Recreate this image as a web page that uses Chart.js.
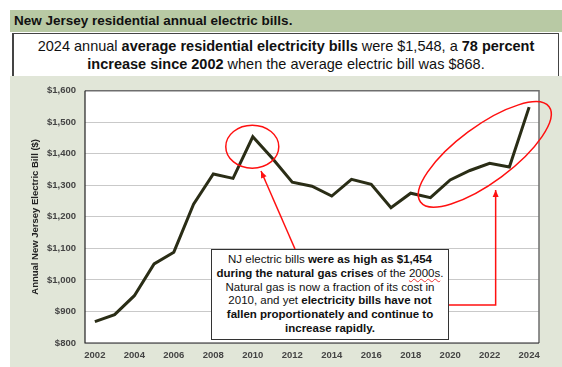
<!DOCTYPE html>
<html>
<head>
<meta charset="utf-8">
<script src="https://cdn.jsdelivr.net/npm/chart.js@4"></script>
<style>
  body { margin: 0; width: 562px; height: 367px; background: #fff; position: relative; overflow: hidden;
         font-family: "Liberation Sans", Arial, sans-serif; }
  #header { position: absolute; left: 10px; top: 10px; width: 548px; height: 22px; padding-left: 4px;
            background: #b8c9a4; font-weight: bold; font-size: 13.5px; line-height: 22px; color: #111; }
  #subtitle { position: absolute; left: 12px; top: 33px; width: 544px; height: 40px; background: #fff;
              border: 1px solid #444; border-left-width: 2px; border-top-width: 1.5px;
              text-align: center; font-size: 14.5px; line-height: 18px; padding-top: 3px; color: #111; }
  #panel { position: absolute; left: 10px; top: 76px; width: 552px; height: 291px; background: #e1e6d8; }
  #chart { position: absolute; left: 0; top: 0; }
  #note { position: absolute; left: 211px; top: 249px; width: 236px; height: 86px; background: #fff;
          border: 1px solid #333; text-align: center; font-size: 11.5px; line-height: 13.8px; color: #111;
          padding-top: 3px; box-sizing: content-box; }
  .sp { text-decoration: underline wavy #e33; text-decoration-thickness: 1px; }
</style>
</head>
<body>
<div id="header">New Jersey residential annual electric bills.</div>
<div id="subtitle">2024 annual <b>average residential electricity bills</b> were $1,548, a <b>78 percent</b><br><b>increase since 2002</b> when the average electric bill was $868.</div>
<div id="panel"><canvas id="chart" width="552" height="291"></canvas></div>
<div id="note">NJ electric bills <b>were as high as $1,454</b><br><b>during the natural gas crises</b> of the <span class="sp">2000s</span>.<br>Natural gas is now a fraction of its cost in<br>2010, and yet <b>electricity bills have not</b><br><b>fallen proportionately and continue to</b><br><b>increase rapidly.</b></div>

<script>
// Annual residential electric bill, New Jersey
const years = [
  "2002", "2003", "2004", "2005", "2006", "2007", "2008", "2009", "2010", "2011", "2012", "2013",
  "2014", "2015", "2016", "2017", "2018", "2019", "2020", "2021", "2022", "2023", "2024"
];
const bills = [
  868, 890, 950, 1051, 1088, 1240, 1336, 1322, 1454, 1385, 1310, 1297,
  1266, 1319, 1303, 1229, 1275, 1261, 1317, 1347, 1370, 1358, 1548
];
const yMin = 800;
const yMax = 1600;
const yStep = 100;

const tickFont = { family: "'Liberation Sans', Arial, sans-serif", size: 9.5, weight: "bold" };

// white plot area, frame and red callouts
const decorations = {
  id: "decorations",
  beforeDraw(chart) {
    const { ctx, chartArea: a } = chart;
    ctx.save();
    ctx.fillStyle = "#ffffff";
    ctx.fillRect(a.left, a.top, a.right - a.left, a.bottom - a.top);
    ctx.restore();
  },
  afterDraw(chart) {
    const { ctx, chartArea: a, scales } = chart;
    const x = scales.x, y = scales.y;
    ctx.save();
    // frame
    ctx.strokeStyle = "#6e6e6e";
    ctx.lineWidth = 1.5;
    ctx.beginPath();
    ctx.moveTo(a.left, a.top);
    ctx.lineTo(a.right, a.top);
    ctx.lineTo(a.right, a.bottom);
    ctx.stroke();
    ctx.strokeStyle = "#222";
    ctx.lineWidth = 1.2;
    ctx.beginPath();
    ctx.moveTo(a.left, a.top);
    ctx.lineTo(a.left, a.bottom);
    ctx.lineTo(a.right, a.bottom);
    ctx.stroke();

    ctx.strokeStyle = "#ff1010";
    ctx.fillStyle = "#ff1010";
    ctx.lineWidth = 1.5;

    // circle round the 2010 peak
    const px = x.getPixelForValue(years.indexOf("2010"));
    const py = y.getPixelForValue(1454);
    ctx.beginPath();
    ctx.ellipse(px - 0.5, py + 10, 26.5, 21.5, 0, 0, Math.PI * 2);
    ctx.stroke();

    // tilted ellipse round the recent years
    const ex = (x.getPixelForValue(years.indexOf("2021")) + x.getPixelForValue(years.indexOf("2022"))) / 2 + 5;
    const ey = y.getPixelForValue(1398);
    ctx.beginPath();
    ctx.ellipse(ex, ey, 80, 28, -36.5 * Math.PI / 180, 0, Math.PI * 2);
    ctx.stroke();

    // arrows from the note box (note box is html, panel offset 10,76)
    const arrow = (pts) => {
      ctx.beginPath();
      ctx.moveTo(pts[0][0], pts[0][1]);
      for (let i = 1; i < pts.length; i++) ctx.lineTo(pts[i][0], pts[i][1]);
      ctx.stroke();
      const [x1, y1] = pts[pts.length - 2];
      const [x2, y2] = pts[pts.length - 1];
      const ang = Math.atan2(y2 - y1, x2 - x1);
      ctx.beginPath();
      ctx.moveTo(x2, y2);
      ctx.lineTo(x2 - 7 * Math.cos(ang) + 3 * Math.sin(ang), y2 - 7 * Math.sin(ang) - 3 * Math.cos(ang));
      ctx.lineTo(x2 - 7 * Math.cos(ang) - 3 * Math.sin(ang), y2 - 7 * Math.sin(ang) + 3 * Math.cos(ang));
      ctx.closePath();
      ctx.fill();
    };
    arrow([[285, 173], [251, 95]]);
    const ax = x.getPixelForValue(years.indexOf("2022")) + 6;
    arrow([[438, 229], [ax, 229], [ax, 114]]);
    ctx.restore();
  }
};

new Chart(document.getElementById("chart"), {
  type: "line",
  data: {
    labels: years,
    datasets: [{
      data: bills,
      borderColor: "#2a2d16",
      borderWidth: 3,
      pointRadius: 0,
      tension: 0,
      borderJoinStyle: "miter"
    }]
  },
  options: {
    responsive: false,
    animation: false,
    devicePixelRatio: 1,
    layout: { padding: { left: 0, top: 13, right: 23, bottom: 0 } },
    plugins: { legend: { display: false }, tooltip: { enabled: false } },
    scales: {
      x: {
        offset: true,
        grid: { display: false, drawTicks: false },
        border: { display: false },
        afterFit: (s) => { s.height = 24; },
        ticks: {
          autoSkip: false,
          maxRotation: 0,
          padding: 7,
          color: "#444",
          font: tickFont,
          callback: function (v, i) { return i % 2 === 0 ? this.getLabelForValue(v) : ""; }
        }
      },
      y: {
        min: yMin,
        max: yMax,
        afterFit: (s) => { s.width = 75; },
        grid: { color: "#c9c9c9", lineWidth: 1, drawTicks: false },
        border: { display: false },
        ticks: {
          stepSize: yStep,
          padding: 9,
          color: "#444",
          font: tickFont,
          callback: (v) => "$" + v.toLocaleString("en-US")
        },
        title: {
          display: true,
          text: "Annual New Jersey Electric Bill ($)",
          color: "#222",
          font: { family: "'Liberation Sans', Arial, sans-serif", size: 9.5, weight: "bold" },
          padding: { top: 20, bottom: 0 }
        }
      }
    }
  },
  plugins: [decorations]
});
</script>
</body>
</html>
